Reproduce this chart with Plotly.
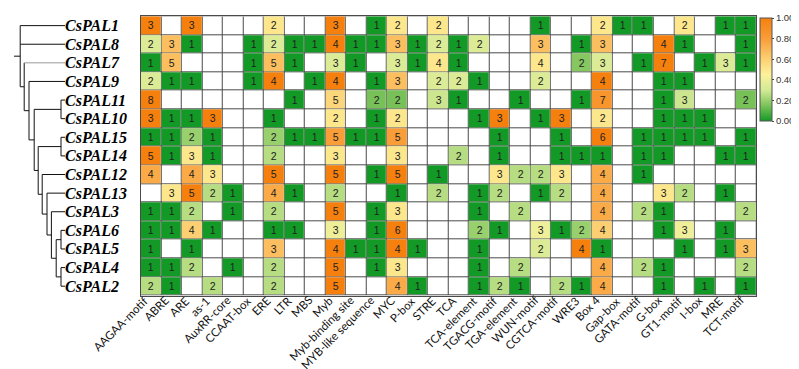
import numpy as np
import plotly.graph_objects as go

# ---------------- data ----------------
genes = ["CsPAL1", "CsPAL8", "CsPAL7", "CsPAL9", "CsPAL11", "CsPAL10", "CsPAL15",
         "CsPAL14", "CsPAL12", "CsPAL13", "CsPAL3", "CsPAL6", "CsPAL5", "CsPAL4", "CsPAL2"]

elements = ["AAGAA-motif", "ABRE", "ARE", "as-1", "AuxRR-core", "CCAAT-box", "ERE", "LTR",
            "MBS", "Myb", "Myb-binding site", "MYB-like sequence", "MYC", "P-box", "STRE",
            "TCA", "TCA-element", "TGACG-motif", "TGA-element", "WUN-motif", "CGTCA-motif",
            "WRE3", "Box 4", "Gap-box", "GATA-motif", "G-box", "GT1-motif", "I-box", "MRE",
            "TCT-motif"]

# counts of each cis-element per gene (0 = absent)
CsPAL1 = [3, 0, 3, 0, 0, 0, 2, 0, 0, 3, 0, 1, 2, 0, 2, 0, 0, 0, 0, 1, 0, 0, 2, 1, 1, 0, 2, 0, 1, 1]
CsPAL8 = [2, 3, 1, 0, 0, 1, 2, 1, 1, 4, 1, 1, 3, 1, 2, 1, 2, 0, 0, 3, 0, 1, 3, 0, 0, 4, 1, 0, 0, 1]
CsPAL7 = [1, 5, 0, 0, 0, 1, 5, 1, 0, 3, 1, 0, 3, 1, 4, 1, 0, 0, 0, 4, 0, 2, 3, 0, 1, 7, 0, 1, 3, 1]
CsPAL9 = [2, 1, 1, 0, 0, 1, 4, 0, 1, 4, 0, 1, 3, 0, 2, 2, 1, 0, 0, 2, 0, 0, 4, 0, 0, 1, 1, 0, 0, 0]
CsPAL11 = [8, 0, 0, 0, 0, 0, 0, 1, 0, 5, 0, 2, 2, 0, 3, 1, 0, 0, 1, 0, 0, 1, 7, 0, 0, 1, 3, 0, 0, 2]
CsPAL10 = [3, 1, 1, 3, 0, 0, 1, 0, 0, 2, 0, 1, 2, 0, 0, 0, 1, 3, 0, 1, 3, 0, 2, 0, 0, 1, 1, 1, 0, 0]
CsPAL15 = [1, 1, 2, 1, 0, 0, 2, 1, 1, 5, 1, 1, 5, 0, 0, 0, 0, 1, 0, 0, 1, 0, 6, 0, 1, 1, 1, 1, 0, 1]
CsPAL14 = [5, 1, 3, 1, 0, 0, 2, 0, 0, 3, 0, 0, 3, 0, 0, 2, 0, 1, 0, 0, 1, 1, 1, 0, 1, 1, 0, 0, 1, 1]
CsPAL12 = [4, 0, 4, 3, 0, 0, 5, 0, 0, 5, 0, 1, 5, 0, 1, 0, 0, 3, 2, 2, 3, 0, 4, 0, 1, 0, 0, 0, 0, 0]
CsPAL13 = [0, 3, 5, 2, 1, 0, 4, 1, 0, 2, 0, 0, 1, 0, 2, 0, 1, 2, 0, 1, 2, 0, 4, 0, 0, 3, 2, 0, 1, 0]
CsPAL3 = [1, 1, 2, 0, 1, 0, 2, 0, 0, 5, 0, 1, 3, 0, 0, 0, 1, 0, 2, 0, 0, 0, 4, 0, 2, 1, 0, 0, 0, 2]
CsPAL6 = [1, 1, 4, 1, 0, 0, 1, 1, 0, 3, 0, 1, 6, 0, 0, 0, 2, 1, 0, 3, 1, 2, 4, 0, 0, 1, 3, 0, 1, 0]
CsPAL5 = [1, 0, 1, 0, 0, 0, 3, 0, 0, 4, 1, 1, 4, 1, 0, 0, 1, 0, 0, 2, 0, 4, 1, 0, 0, 0, 1, 0, 1, 3]
CsPAL4 = [1, 1, 2, 0, 1, 0, 2, 0, 0, 5, 0, 1, 3, 0, 0, 0, 1, 0, 2, 0, 0, 0, 4, 0, 2, 1, 0, 0, 0, 2]
CsPAL2 = [2, 1, 0, 2, 0, 0, 2, 0, 0, 5, 0, 0, 4, 1, 0, 0, 1, 2, 1, 0, 2, 1, 4, 0, 0, 1, 0, 1, 0, 1]

counts = [CsPAL1, CsPAL8, CsPAL7, CsPAL9, CsPAL11, CsPAL10, CsPAL15, CsPAL14,
          CsPAL12, CsPAL13, CsPAL3, CsPAL6, CsPAL5, CsPAL4, CsPAL2]

# dendrogram: (children, height)
merges = {
    "n0": (["CsPAL11", "CsPAL10"], 1.0),
    "n1": (["CsPAL15", "CsPAL14"], 1.0),
    "n2": (["CsPAL6", "CsPAL5"], 1.0),
    "n3": (["CsPAL4", "CsPAL2"], 1.0),
    "n4": (["n2", "n3"], 2.2),
    "n5": (["CsPAL3", "n4"], 3.4),
    "n6": (["CsPAL13", "n5"], 4.5),
    "n7": (["CsPAL12", "n6"], 5.7),
    "n8": (["n1", "n7"], 6.7),
    "n9": (["n0", "n8"], 7.7),
    "n10": (["CsPAL9", "n9"], 9.0),
    "n11": (["CsPAL7", "n10"], 10.2),
    "root": (["CsPAL1", "CsPAL8", "n11"], 11.2),
}

# ---------------- processing ----------------
cnt = np.array(counts, dtype=float)
z = np.full(cnt.shape, np.nan)
for i, row in enumerate(cnt):
    present = row[row > 0]
    lo, hi = present.min(), present.max()
    z[i, row > 0] = (row[row > 0] - lo) / (hi - lo if hi > lo else 1)
text = [[str(int(v)) if v > 0 else "" for v in row] for row in cnt]

nr, nc = cnt.shape
xs = list(range(nc))
ys = list(range(nr))

W, H = 799, 369
hm_x0, hm_x1 = 132.7, 748.3
hm_y0, hm_y1 = 8.3, 287.5

colorscale = [
    [0.0, "#139a26"],
    [0.15, "#7cc35a"],
    [0.3, "#d3ea95"],
    [0.45, "#fdf29b"],
    [0.6, "#fcd072"],
    [0.8, "#f99d38"],
    [1.0, "#f5800e"],
]

fig = go.Figure()

# white background cells
fig.add_trace(go.Heatmap(
    x=xs, y=ys, z=np.zeros(cnt.shape),
    colorscale=[[0, "white"], [1, "white"]], showscale=False,
    xgap=1, ygap=1, hoverinfo="skip"))

fig.add_trace(go.Heatmap(
    x=xs, y=ys, z=z, zmin=0, zmax=1,
    colorscale=colorscale,
    text=text, texttemplate="%{text}",
    textfont=dict(size=10.5, color="#222222", family="Liberation Sans"),
    xgap=1, ygap=1,
    colorbar=dict(
        x=752 / W, xanchor="left", y=1 - 10 / H, yanchor="top",
        lenmode="pixels", len=103, thickness=12,
        tickvals=[0, 0.2, 0.4, 0.6, 0.8, 1.0], tickformat=".2f",
        ticks="outside", ticklen=2, tickcolor="#444",
        tickfont=dict(size=9.5, family="Liberation Sans", color="#333"),
        outlinewidth=1, outlinecolor="#555", xpad=0, ypad=0),
))

# grid background rectangle (shows through the gaps)
fig.add_shape(type="rect", xref="x", yref="y", x0=-0.5, x1=nc - 0.5, y0=-0.5, y1=nr - 0.5,
              fillcolor="#4a4a4a", line=dict(width=0), layer="below")

# ---------------- dendrogram ----------------
ypos = {g: i for i, g in enumerate(genes)}
hpos = {g: 0.0 for g in genes}


def place(node):
    if node in ypos:
        return ypos[node]
    children, h = merges[node]
    cy = [place(c) for c in children]
    ypos[node] = (min(cy) + max(cy)) / 2
    hpos[node] = h
    return ypos[node]


place("root")
seg_x, seg_y = [], []
grey_x, grey_y = [], []
for node, (children, h) in merges.items():
    cy = [ypos[c] for c in children]
    seg_x += [h, h, None]
    seg_y += [min(cy), max(cy), None]
    for c in children:
        if c == "CsPAL7":
            grey_x += [h, hpos[c], None]
            grey_y += [ypos[c], ypos[c], None]
        else:
            seg_x += [h, hpos[c], None]
            seg_y += [ypos[c], ypos[c], None]
root_h = merges["root"][1]
stub = 1.55
seg_x += [root_h, root_h + stub, None]
seg_y += [ypos["root"], ypos["root"], None]

fig.add_trace(go.Scatter(x=seg_x, y=seg_y, mode="lines", xaxis="x2", yaxis="y",
                         line=dict(color="#111", width=1), hoverinfo="skip", showlegend=False))
fig.add_trace(go.Scatter(x=grey_x, y=grey_y, mode="lines", xaxis="x2", yaxis="y",
                         line=dict(color="#999", width=1), hoverinfo="skip", showlegend=False))

# gene labels
for g in genes:
    fig.add_annotation(x=56 / W, xref="paper", y=ypos[g], yref="y", text=f"<b><i>{g}</i></b>",
                       showarrow=False, xanchor="left", yanchor="middle", borderpad=0,
                       font=dict(family="Liberation Serif", size=16, color="black"))

# element labels (rotated, ending just below each column)
for i, e in enumerate(elements):
    fig.add_annotation(x=i + 0.05, xref="x", y=1 - (hm_y1 - 3) / H, yref="paper", text=e,
                       showarrow=False, xanchor="right", yanchor="top", textangle=-45,
                       borderpad=0, font=dict(family="Lato", size=11.5, color="#111"))

fig.update_layout(
    width=W, height=H,
    margin=dict(l=0, r=0, t=0, b=0),
    paper_bgcolor="white", plot_bgcolor="white",
    xaxis=dict(domain=[hm_x0 / W, hm_x1 / W], range=[-0.5, nc - 0.5],
               showticklabels=False,
               showgrid=False, zeroline=False, ticks="", showline=True, mirror=True,
               linecolor="#4a4a4a", linewidth=1, automargin=False),
    yaxis=dict(domain=[1 - hm_y1 / H, 1 - hm_y0 / H], range=[nr - 0.5, -0.5],
               showticklabels=False, showgrid=False, zeroline=False, ticks="",
               showline=True, mirror=True, linecolor="#4a4a4a", linewidth=1, automargin=False),
    xaxis2=dict(domain=[6 / W, 57 / W], range=[root_h + stub, 0], anchor="y",
                visible=False, showgrid=False, zeroline=False),
)

fig.write_html("out.html")
